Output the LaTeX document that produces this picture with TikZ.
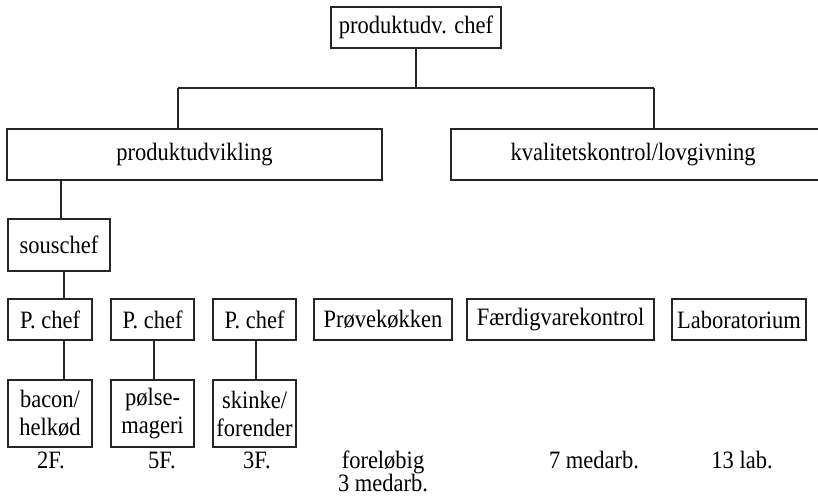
\documentclass[tikz,border=0pt]{standalone}
\usepackage{fontspec}
\setmainfont{Liberation Serif}[FakeStretch=0.9]
\begin{document}
\begin{tikzpicture}[x=1pt,y=-1pt,
  box/.style={draw=black!85, line width=1.3pt, inner sep=0pt, align=center,
    font=\fontsize{25}{28}\selectfont},
  lbl/.style={inner sep=0pt, align=center, font=\fontsize{25}{23}\selectfont},
  conn/.style={draw=black!85, line width=1.3pt}]
\useasboundingbox (0,0) rectangle (818,502);
% level 1
\node[box, minimum width=170pt, minimum height=41pt] (top) at (416,27.5) {produktudv. chef};
% level 2
\node[box, minimum width=375pt, minimum height=51pt] (pu) at (194.5,154.5) {produktudvikling};
\node[box, minimum width=384pt, minimum height=51pt,
  label={[lbl, xshift=-10pt]center:kvalitetskontrol/lovgivning}] (kq) at (643,154.5) {};
% souschef
\node[box, minimum width=102pt, minimum height=52pt] (sc) at (59,245) {souschef};
% row 3
\node[box, minimum width=84pt, minimum height=41pt] (pc1) at (50,319.5) {P. chef};
\node[box, minimum width=83pt, minimum height=41pt] (pc2) at (152.5,319.5) {P. chef};
\node[box, minimum width=83pt, minimum height=41pt] (pc3) at (254.5,319.5) {P. chef};
\node[box, minimum width=138pt, minimum height=41pt] (pk) at (383,319.5) {Prøvekøkken};
\node[box, minimum width=187pt, minimum height=41pt] (fv) at (560.5,319.5) {Færdigvarekontrol};
\node[box, minimum width=134pt, minimum height=41pt] (lab) at (739,319.5) {Laboratorium};
% row 4
\node[box, minimum width=84pt, minimum height=67pt] (bh) at (50,413.5) {bacon/\\helkød};
\node[box, minimum width=83pt, minimum height=67pt] (pm) at (152.5,413.5) {pølse-\\mageri};
\node[box, minimum width=83pt, minimum height=67pt] (sf) at (254.5,413.5) {skinke/\\forender};
% bottom labels
\node[lbl, anchor=base] (l1) at (51,468) {2F.};
\node[lbl, anchor=base] (l2) at (162,468) {5F.};
\node[lbl, anchor=base] (l3) at (257,468) {3F.};
\node[lbl, anchor=base] (l4) at (383,491) {foreløbig\\3 medarb.};
\node[lbl, anchor=base] (l5) at (594,468) {7 medarb.};
\node[lbl, anchor=base] (l6) at (742,468) {13 lab.};
% connectors
\coordinate (jl) at (178,88);
\coordinate (jr) at (654,88);
\draw[conn] (top.south) -- (top.south |- jl);
\draw[conn] (jl) -- (jr);
\draw[conn] (jl) -- (jl |- pu.north);
\draw[conn] (jr) -- (jr |- kq.north);
\draw[conn] (61,0 |- pu.south) -- (61,0 |- sc.north);
\draw[conn] (64,0 |- sc.south) -- (64,0 |- pc1.north);
\draw[conn] (64,0 |- pc1.south) -- (64,0 |- bh.north);
\draw[conn] (154,0 |- pc2.south) -- (154,0 |- pm.north);
\draw[conn] (256,0 |- pc3.south) -- (256,0 |- sf.north);
\end{tikzpicture}
\end{document}
